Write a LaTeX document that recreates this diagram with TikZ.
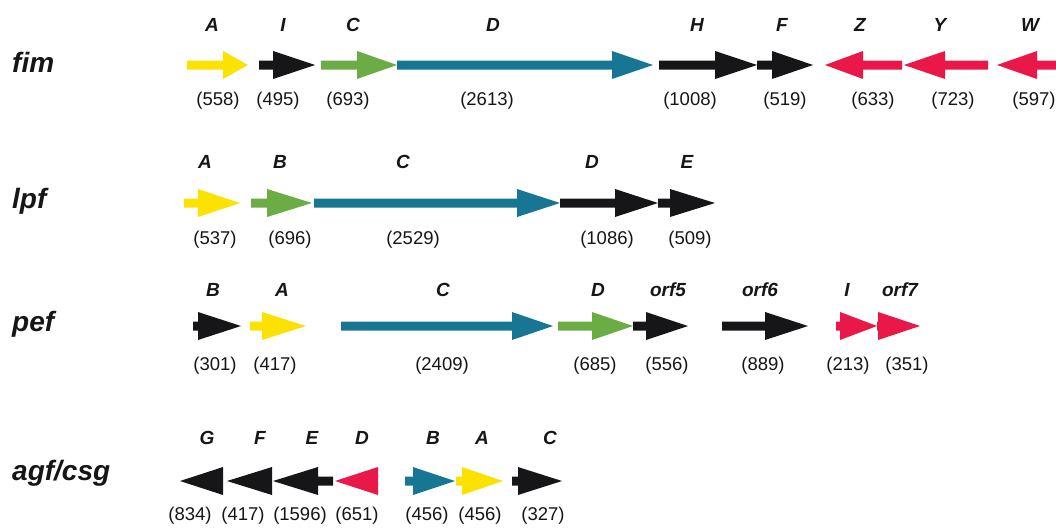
\documentclass[tikz,border=0pt]{standalone}
\usepackage{fontspec}
\setmainfont{Liberation Sans}
\definecolor{gyellow}{RGB}{252,226,0}
\definecolor{ggreen}{RGB}{108,172,68}
\definecolor{gteal}{RGB}{22,118,148}
\definecolor{gred}{RGB}{234,24,72}
\definecolor{gblack}{RGB}{22,22,24}
% right-pointing gene: color, shaft start, head base, tip, y
\newcommand\geneR[5]{\fill[#1] (#2,#5-4.5) -- (#3,#5-4.5) -- (#3,#5-14) -- (#4,#5) -- (#3,#5+14) -- (#3,#5+4.5) -- (#2,#5+4.5) -- cycle;}
% left-pointing gene: color, shaft end (right), head base, tip, y
\newcommand\geneL[5]{\fill[#1] (#2,#5-4.5) -- (#3,#5-4.5) -- (#3,#5-14) -- (#4,#5) -- (#3,#5+14) -- (#3,#5+4.5) -- (#2,#5+4.5) -- cycle;}
\begin{document}
\begin{tikzpicture}[x=1pt,y=-1pt,
  rowlab/.style={anchor=west,inner sep=0pt,font=\fontsize{28}{32}\selectfont\bfseries\itshape,text=gblack},
  genelab/.style={inner sep=0pt,font=\fontsize{19}{22}\selectfont\bfseries\itshape,text=gblack},
  sizelab/.style={inner sep=0pt,font=\fontsize{18.5}{21}\selectfont,text=gblack}]
\useasboundingbox[fill=white] (0,0) rectangle (1056,527);
% ---------- fim ----------
\node[rowlab] (fim) at (12,62) {fim};
\geneR{gyellow}{187}{223}{248}{65}
\geneR{gblack}{259}{273}{315}{65}
\geneR{ggreen}{321}{357}{397}{65}
\geneR{gteal}{397}{612}{653}{65}
\geneR{gblack}{659}{715}{757}{65}
\geneR{gblack}{757}{772}{813}{65}
\geneL{gred}{902}{863}{825}{65}
\geneL{gred}{988}{945}{904}{65}
\geneL{gred}{1060}{1037}{997}{65}
\node[genelab] (fA) at (212,25) {A};
\node[genelab] (fI) at (283,25) {I};
\node[genelab] (fC) at (353,25) {C};
\node[genelab] (fD) at (493,25) {D};
\node[genelab] (fH) at (697,25) {H};
\node[genelab] (fF) at (782,25) {F};
\node[genelab] (fZ) at (860,25) {Z};
\node[genelab] (fY) at (940,25) {Y};
\node[genelab] (fW) at (1030,25) {W};
\node[sizelab] (fA2) at (218,101) {(558)};
\node[sizelab] (fI2) at (278,101) {(495)};
\node[sizelab] (fC2) at (348,101) {(693)};
\node[sizelab] (fD2) at (487,101) {(2613)};
\node[sizelab] (fH2) at (690,101) {(1008)};
\node[sizelab] (fF2) at (785,101) {(519)};
\node[sizelab] (fZ2) at (873,101) {(633)};
\node[sizelab] (fY2) at (953,101) {(723)};
\node[sizelab] (fW2) at (1034,101) {(597)};
% ---------- lpf ----------
\node[rowlab] (lpf) at (12,201) {lpf};
\geneR{gyellow}{184}{198}{240}{203}
\geneR{ggreen}{251}{267}{312}{203}
\geneR{gteal}{314}{517}{560}{203}
\geneR{gblack}{560}{615}{658}{203}
\geneR{gblack}{658}{670}{715}{203}
\node[genelab] (lA) at (205,162) {A};
\node[genelab] (lB) at (280,162) {B};
\node[genelab] (lC) at (403,162) {C};
\node[genelab] (lD) at (592,162) {D};
\node[genelab] (lE) at (687,162) {E};
\node[sizelab] (lA2) at (215,240) {(537)};
\node[sizelab] (lB2) at (290,240) {(696)};
\node[sizelab] (lC2) at (413,240) {(2529)};
\node[sizelab] (lD2) at (607,240) {(1086)};
\node[sizelab] (lE2) at (690,240) {(509)};
% ---------- pef ----------
\node[rowlab] (pef) at (12,324) {pef};
\geneR{gblack}{193}{198}{241}{326}
\geneR{gyellow}{250}{262}{306}{326}
\geneR{gteal}{341}{512}{553}{326}
\geneR{ggreen}{558}{592}{633}{326}
\geneR{gblack}{633}{646}{688}{326}
\geneR{gblack}{722}{765}{808}{326}
\geneR{gred}{836}{840}{877}{326}
\geneR{gred}{877}{878}{920}{326}
\node[genelab] (pB) at (213,290) {B};
\node[genelab] (pA) at (282,290) {A};
\node[genelab] (pC) at (443,290) {C};
\node[genelab] (pD) at (598,290) {D};
\node[genelab] (p5) at (668,290) {orf5};
\node[genelab] (p6) at (760,290) {orf6};
\node[genelab] (pI) at (847,290) {I};
\node[genelab] (p7) at (900,290) {orf7};
\node[sizelab] (pB2) at (215,366) {(301)};
\node[sizelab] (pA2) at (275,366) {(417)};
\node[sizelab] (pC2) at (442,366) {(2409)};
\node[sizelab] (pD2) at (595,366) {(685)};
\node[sizelab] (p52) at (667,366) {(556)};
\node[sizelab] (p62) at (763,366) {(889)};
\node[sizelab] (pI2) at (848,366) {(213)};
\node[sizelab] (p72) at (907,366) {(351)};
% ---------- agf/csg ----------
\node[rowlab] (agf) at (12,473) {agf/csg};
\geneL{gblack}{223}{223}{180}{481}
\geneL{gblack}{272}{272}{227}{481}
\geneL{gblack}{333}{318}{273}{481}
\geneL{gred}{378}{378}{335}{481}
\geneR{gteal}{405}{413}{455}{481}
\geneR{gyellow}{456}{462}{503}{481}
\geneR{gblack}{512}{518}{562}{481}
\node[genelab] (aG) at (207,438) {G};
\node[genelab] (aF) at (260,438) {F};
\node[genelab] (aE) at (312,438) {E};
\node[genelab] (aD) at (362,438) {D};
\node[genelab] (aB) at (433,438) {B};
\node[genelab] (aA) at (482,438) {A};
\node[genelab] (aC) at (550,438) {C};
\node[sizelab] (aG2) at (190,516) {(834)};
\node[sizelab] (aF2) at (243,516) {(417)};
\node[sizelab] (aE2) at (300,516) {(1596)};
\node[sizelab] (aD2) at (357,516) {(651)};
\node[sizelab] (aB2) at (427,516) {(456)};
\node[sizelab] (aA2) at (480,516) {(456)};
\node[sizelab] (aC2) at (543,516) {(327)};
\end{tikzpicture}
\end{document}
